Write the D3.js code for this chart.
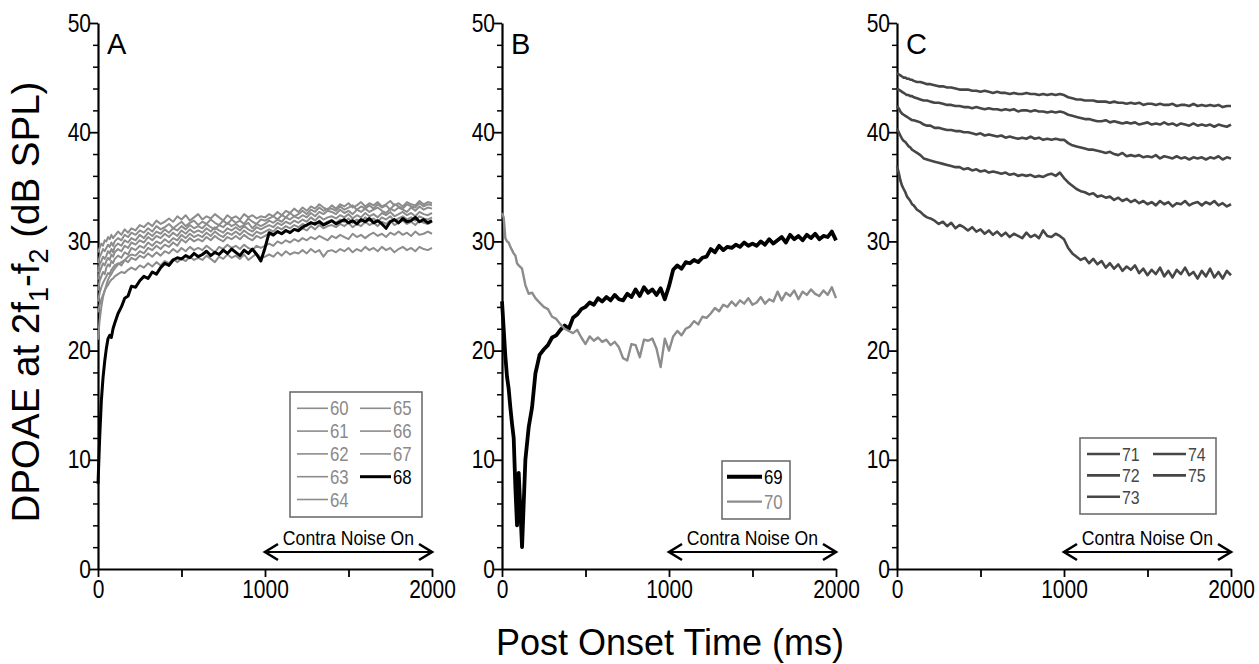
<!DOCTYPE html>
<html><head><meta charset="utf-8">
<script src="https://d3js.org/d3.v7.min.js"></script>
<style>body{margin:0;background:#fff}</style>
</head><body>
<svg id="fig" width="1259" height="664"></svg>
<script>
// sample times (ms), dense at the start where the curves move fast
var t = [0,10,20,30,40,50,60,70,80,90,100, 120,140,160,180,200,
  225,250,275,300,325,350,375,400, 425,450,475,500,525,550,575,600,
  625,650,675,700,725,750,775,800, 825,850,875,900,925,950,975,1000,
  1025,1050,1075,1100,1125,1150,1175,1200, 1225,1250,1275,1300,1325,1350,1375,1400,
  1425,1450,1475,1500,1525,1550,1575,1600, 1625,1650,1675,1700,1725,1750,1775,1800,
  1825,1850,1875,1900,1925,1950,1975,2000]

// panel A
var a60 = [29.0,29.4,29.8,29.6,30.1,30.0,30.4,30.2,30.6,30.3,30.5, 30.9,30.6,31.1,30.8,31.2,
  31.0,31.5,31.3,31.7,31.4,31.9,31.6,31.8, 32.1,31.8,32.3,32.0,32.4,31.9,32.2,32.5,
  32.0,32.3,32.1,32.5,32.2,31.9,32.4,32.1, 32.3,32.0,32.5,32.2,32.4,32.1,32.3,32.2,
  32.5,32.3,32.7,32.4,32.8,32.6,33.0,32.7, 33.1,32.8,33.2,33.0,33.4,33.1,32.9,33.3,
  33.0,33.4,33.2,33.5,33.1,33.3,33.6,33.2, 33.5,33.3,33.6,33.2,33.4,33.7,33.3,33.5,
  33.2,33.6,33.4,33.3,33.7,33.4,33.6,33.5]
var a61 = [28.0,28.6,28.9,29.3,29.1,29.4,29.7,29.5,29.9,29.6,30.0, 30.3,30.1,30.6,30.4,30.8,
  30.6,31.0,30.8,31.2,30.9,31.4,31.1,31.3, 31.6,31.2,31.5,31.8,31.4,31.7,31.9,31.5,
  31.8,31.6,32.0,31.7,31.5,31.9,31.6,32.0, 31.7,31.9,31.6,32.1,31.8,31.6,32.0,31.9,
  32.1,32.3,32.0,32.4,32.2,32.6,32.3,32.5, 32.8,32.5,32.9,32.7,33.1,32.8,33.0,33.0,
  32.8,33.2,32.9,33.1,33.3,32.9,33.2,33.0, 33.3,33.0,33.4,33.1,33.3,32.9,33.4,33.2,
  33.0,33.4,33.2,33.1,33.5,33.2,33.4,33.3]
var a62 = [27.2,27.9,28.2,28.6,28.4,28.7,29.1,28.9,29.3,29.0,29.5, 29.8,29.6,30.1,29.9,30.3,
  30.1,30.6,30.3,30.8,30.5,30.9,30.7,31.1, 30.8,31.2,31.0,31.4,31.1,31.5,31.2,31.4,
  31.2,31.6,31.3,31.1,31.5,31.3,31.7,31.4, 31.6,31.3,31.5,31.7,31.2,31.6,31.4,31.6,
  31.9,31.7,32.0,31.8,32.2,32.0,32.3,32.1, 32.4,32.2,32.6,32.3,32.7,32.5,32.8,32.7,
  32.5,32.9,32.6,32.8,32.5,32.9,32.7,33.0, 32.7,32.9,33.1,32.8,32.6,33.0,32.8,33.1,
  32.9,32.7,33.1,32.8,33.2,32.9,33.1,33.0]
var a63 = [26.5,27.2,27.6,28.0,27.8,28.2,28.5,28.3,28.8,28.6,29.0, 29.3,29.1,29.6,29.4,29.9,
  29.7,30.1,29.9,30.4,30.1,30.5,30.3,30.7, 30.4,30.8,30.5,31.0,30.7,31.1,30.8,31.0,
  30.8,31.2,30.9,31.3,31.0,30.8,31.2,31.0, 31.3,31.0,31.4,31.1,30.9,31.3,31.1,31.3,
  31.5,31.3,31.7,31.5,31.8,31.6,31.9,31.7, 32.0,31.8,32.2,31.9,32.3,32.0,32.2,32.3,
  32.1,32.4,32.2,32.5,32.1,32.4,32.2,32.6, 32.3,32.5,32.2,32.6,32.4,32.7,32.3,32.5,
  32.7,32.4,32.6,32.3,32.7,32.5,32.4,32.6]
var a64 = [25.5,26.4,26.8,27.2,27.0,27.6,27.9,27.7,28.2,28.0,28.4, 28.7,28.5,29.0,28.8,29.4,
  29.2,29.6,29.4,29.9,29.6,30.0,29.8,30.2, 29.9,30.3,30.1,30.6,30.3,30.7,30.4,30.6,
  30.4,30.8,30.5,30.9,30.6,30.4,30.8,30.6, 30.9,30.6,31.0,30.7,30.5,30.9,30.7,30.9,
  31.1,30.9,31.3,31.1,31.4,31.2,31.5,31.3, 31.6,31.4,31.8,31.5,31.9,31.6,31.8,31.9,
  31.7,32.0,31.8,32.1,31.7,32.0,31.8,32.2, 31.9,32.1,31.8,32.2,32.0,32.3,31.9,32.1,
  32.3,32.0,32.2,31.9,32.3,32.1,32.0,32.2]
var a65 = [21.0,22.8,24.0,24.9,25.5,26.0,26.5,26.8,27.0,27.3,27.5, 27.9,28.1,28.3,28.6,28.8,
  28.7,29.1,28.9,29.4,29.2,29.6,29.3,29.7, 29.5,29.9,29.6,30.2,29.9,30.3,30.0,30.2,
  30.0,30.4,30.1,30.5,30.2,30.0,30.4,30.2, 30.5,30.2,30.6,30.3,30.1,30.5,30.3,30.5,
  30.7,30.5,30.9,30.7,31.0,30.8,31.1,30.9, 31.2,31.0,31.4,31.1,31.5,31.2,31.4,31.5,
  31.3,31.6,31.4,31.7,31.3,31.6,31.4,31.8, 31.5,31.7,31.4,31.8,31.6,31.9,31.5,31.7,
  31.9,31.6,31.8,31.5,31.9,31.7,31.6,31.8]
var a66 = [24.5,25.3,25.8,26.2,26.5,26.8,27.1,27.0,27.4,27.6,27.8, 28.0,27.8,28.3,28.1,28.5,
  28.3,28.7,28.5,28.9,28.6,29.0,28.7,29.1, 28.9,29.3,29.0,29.4,29.1,29.5,29.2,29.4,
  29.2,29.6,29.3,29.0,29.5,29.3,29.7,29.4, 29.6,29.3,29.7,29.4,29.2,29.6,29.4,29.6,
  29.8,29.6,30.0,29.8,30.1,29.9,30.2,30.0, 30.3,30.1,30.4,30.2,30.5,30.3,30.1,30.5,
  30.3,30.6,30.4,30.2,30.7,30.4,30.6,30.3, 30.6,30.8,30.5,30.7,30.4,30.8,30.6,30.9,
  30.6,30.8,30.5,30.9,30.6,30.7,30.9,30.7]
var a67 = [23.5,24.2,24.7,25.1,25.5,25.8,26.0,26.3,26.5,26.6,26.8, 27.0,27.2,27.1,27.4,27.6,
  27.4,27.8,27.6,28.0,27.7,28.1,27.8,28.2, 28.0,28.4,28.1,28.4,28.2,28.6,28.3,28.5,
  28.3,28.7,28.4,28.1,28.6,28.4,28.8,28.5, 28.7,28.4,28.8,28.3,28.6,28.9,28.5,28.6,
  28.8,28.6,29.0,28.7,29.1,28.8,29.0,28.9, 29.2,28.9,29.3,29.0,29.2,28.6,29.1,29.2,
  29.0,29.3,29.1,29.4,29.0,29.3,29.1,29.5, 29.2,29.4,29.1,29.5,29.2,29.4,29.0,29.3,
  29.5,29.2,29.4,29.1,29.5,29.3,29.2,29.4]
var a68 = [7.8,12.0,15.4,17.5,19.0,20.2,21.1,21.4,21.2,22.0,22.5, 23.4,24.0,24.8,25.0,25.9,
  25.8,26.4,26.8,26.6,27.2,27.0,27.6,28.0, 27.8,28.3,28.5,28.4,28.7,28.5,28.9,28.6,
  28.8,29.1,28.7,29.0,28.8,29.2,28.9,29.3, 29.0,28.7,29.2,28.9,29.3,28.8,28.2,29.4,
  30.8,30.6,30.9,30.7,31.0,30.8,31.1,31.0, 31.3,31.5,31.7,31.6,31.8,31.5,31.7,31.9,
  31.6,31.8,32.0,31.7,31.9,31.6,32.0,31.8, 32.1,31.7,31.9,31.6,31.2,31.8,32.0,31.7,
  32.1,31.8,31.9,32.2,31.8,32.0,31.7,31.9]

// panel B
var b69 = [24.5,22.0,19.5,17.6,16.5,14.8,13.3,12.0,7.5,4.0,8.8, 2.0,10.0,13.0,14.8,17.9,
  19.6,20.1,20.5,21.2,21.4,21.9,22.3,22.0, 23.0,23.3,23.8,24.0,24.4,24.2,24.8,24.5,
  24.9,24.6,25.1,24.7,24.6,25.2,24.9,25.6, 25.0,25.8,25.3,25.6,25.1,25.7,24.7,25.9,
  27.4,27.8,27.5,28.1,28.0,28.3,28.1,28.5, 28.6,29.3,29.0,29.6,29.2,29.5,29.4,29.7,
  29.5,29.9,29.6,29.8,29.6,30.0,29.7,30.2, 29.8,30.1,30.4,29.9,30.6,30.2,30.5,30.1,
  30.6,30.3,30.7,30.2,30.5,30.4,30.9,30.1]
var b70 = [32.6,32.2,30.3,30.0,29.9,29.5,29.2,28.9,28.7,28.0,27.8, 27.5,26.0,25.2,25.3,24.8,
  24.4,24.0,23.8,23.1,22.9,22.4,22.0,21.8, 21.6,21.9,21.2,20.6,21.3,20.9,21.2,20.8,
  21.0,20.5,20.8,20.3,19.3,19.1,20.6,20.5, 19.4,21.0,20.9,21.1,20.2,18.5,21.1,20.0,
  21.3,21.8,21.4,22.0,22.2,22.7,22.4,23.1, 23.0,23.4,23.9,23.6,24.2,24.0,24.5,24.1,
  24.6,24.3,24.8,24.2,24.4,24.9,24.3,24.7, 24.5,25.4,24.6,25.3,25.0,25.5,24.7,25.4,
  25.1,25.6,25.2,25.0,25.5,25.1,25.8,24.8]

// panel C
var c71 = [45.4,45.3,45.2,45.1,45.0,45.0,44.9,44.9,44.8,44.8,44.7, 44.6,44.6,44.5,44.4,44.4,
  44.3,44.2,44.2,44.1,44.1,44.0,43.9,43.9, 43.9,43.8,43.8,43.7,43.8,43.7,43.6,43.7,
  43.6,43.6,43.5,43.6,43.5,43.5,43.6,43.5, 43.5,43.4,43.5,43.4,43.5,43.4,43.5,43.4,
  43.2,43.1,43.0,43.0,42.9,42.9,42.9,42.8, 42.8,42.8,42.7,42.8,42.7,42.7,42.6,42.7,
  42.6,42.7,42.5,42.6,42.6,42.5,42.6,42.5, 42.5,42.6,42.4,42.5,42.5,42.4,42.6,42.4,
  42.5,42.4,42.5,42.4,42.5,42.3,42.4,42.4]
var c72 = [44.0,43.9,43.8,43.7,43.6,43.5,43.4,43.4,43.3,43.3,43.2, 43.1,43.0,42.9,42.9,42.8,
  42.7,42.7,42.6,42.5,42.5,42.4,42.4,42.3, 42.3,42.2,42.3,42.2,42.1,42.2,42.1,42.1,
  42.0,42.1,42.0,42.1,41.9,42.0,42.0,41.9, 42.0,41.9,41.9,41.8,41.9,41.8,41.9,41.8,
  41.6,41.5,41.4,41.3,41.2,41.2,41.1,41.0, 41.0,41.1,40.9,41.0,40.9,40.8,40.9,40.8,
  40.9,40.7,40.8,40.9,40.7,40.8,40.7,40.9, 40.7,40.8,40.6,40.8,40.7,40.6,40.8,40.6,
  40.7,40.6,40.7,40.5,40.7,40.6,40.5,40.7]
var c73 = [42.4,42.2,41.9,41.7,41.6,41.5,41.4,41.3,41.2,41.1,41.1, 41.0,40.9,40.7,40.6,40.6,
  40.4,40.4,40.3,40.2,40.2,40.1,40.1,40.0, 40.0,39.9,39.8,39.9,39.7,39.8,39.7,39.6,
  39.7,39.5,39.6,39.5,39.4,39.5,39.4,39.6, 39.4,39.5,39.3,39.4,39.3,39.4,39.3,39.3,
  39.0,38.8,38.7,38.6,38.5,38.4,38.4,38.3, 38.2,38.1,38.2,38.0,37.9,38.1,37.8,37.9,
  37.8,37.9,37.7,37.8,37.7,37.9,37.6,37.8, 37.7,37.6,37.8,37.6,37.7,37.5,37.7,37.6,
  37.7,37.5,37.7,37.6,37.8,37.5,37.7,37.6]
var c74 = [40.3,40.0,39.7,39.4,39.2,39.1,38.9,38.7,38.6,38.4,38.3, 38.1,37.9,37.6,37.5,37.4,
  37.3,37.2,37.1,37.0,36.9,36.8,36.8,36.6, 36.7,36.5,36.6,36.4,36.5,36.3,36.4,36.3,
  36.2,36.3,36.1,36.2,36.0,36.1,36.0,36.1, 35.9,36.0,35.9,36.1,36.2,36.0,36.3,35.8,
  35.4,35.1,34.8,34.6,34.5,34.3,34.4,34.1, 34.2,34.0,34.1,33.8,34.0,33.7,33.9,33.6,
  33.8,33.5,33.7,33.4,33.6,33.3,33.7,33.4, 33.6,33.2,33.5,33.4,33.7,33.3,33.5,33.6,
  33.3,33.6,33.4,33.7,33.3,33.5,33.2,33.4]
var c75 = [36.9,36.3,35.6,35.1,34.8,34.5,34.1,33.9,33.7,33.4,33.3, 32.9,32.7,32.4,32.2,32.1,
  31.9,31.6,31.8,31.4,31.7,31.2,31.5,31.3, 31.0,31.3,30.9,31.1,30.7,31.0,30.6,30.9,
  30.5,30.8,30.4,30.7,30.5,30.3,30.8,30.4, 30.6,30.3,31.0,30.5,30.4,30.7,30.5,30.2,
  29.4,28.9,28.6,28.3,28.5,28.0,28.4,27.9, 28.2,27.6,28.0,27.5,27.9,27.3,27.7,27.4,
  27.8,27.1,27.5,26.9,27.4,27.0,27.6,26.8, 27.3,26.7,27.4,27.0,27.6,26.9,27.2,26.6,
  27.3,26.8,27.5,26.7,27.2,26.6,27.3,26.9]

var yTicks = [0, 10, 20, 30, 40, 50]
var xTicks = [0, 1000, 2000]
var xMinor = [500, 1500]
var noiseOn = [1000, 2000]

var FONT = '"Liberation Sans", Arial, sans-serif'
var NARROW = 0.84   // squeeze for the condensed type used in the figure
var GRAY = '#8c8c8c'
var DARK = '#464646'

var svg = d3.select('#fig')
svg.append('rect').attr('width', 1259).attr('height', 664).attr('fill', '#fff')

var plotTop = 23, plotBottom = 569, pw = 334

var x = d3.scaleLinear().domain([0, 2000]).range([0, pw])
var y = d3.scaleLinear().domain([0, 50]).range([plotBottom, plotTop])

var line = d3.line()
  .x(function(d, i) { return x(t[i]) })
  .y(function(d) { return y(d) })

function narrowText(sel, px, py, size) {
  return sel.append('text')
    .attr('transform', 'translate(' + px + ',' + py + ') scale(' + NARROW + ',1)')
    .attr('font-family', FONT).attr('font-size', size)
}

function drawPanel(left, letter, series, legend) {
  var g = svg.append('g').attr('transform', 'translate(' + left + ',0)')

  // minor ticks on y, every 2 dB
  var minor = d3.range(0, 51, 2).filter(function(v) { return v % 10 != 0 })
  g.append('g')
    .call(d3.axisLeft(y).tickValues(minor).tickSize(5).tickFormat(''))
    .call(function(a) { a.select('.domain').remove() })
    .selectAll('line').attr('stroke-width', 1.5)

  var ya = g.append('g')
    .call(d3.axisLeft(y).tickValues(yTicks).tickSize(8).tickSizeOuter(0).tickPadding(-1))
  var xa = g.append('g').attr('transform', 'translate(0,' + plotBottom + ')')
    .call(d3.axisBottom(x).tickValues(xTicks.concat(xMinor)).tickSize(8).tickSizeOuter(0).tickPadding(3)
      .tickFormat(function(d) { return xTicks.indexOf(d) >= 0 ? d : '' }))
  ;[ya, xa].forEach(function(a) {
    a.select('.domain').attr('stroke-width', 2.2)
    a.selectAll('.tick line').attr('stroke-width', 1.8)
    a.selectAll('text').attr('font-family', FONT).attr('font-size', 25).attr('fill', '#000')
      .attr('transform', 'scale(' + NARROW + ',1)')
  })
  ya.selectAll('text').attr('x', -7 / NARROW)

  g.append('text').attr('x', 9).attr('y', 54)
    .attr('font-family', FONT).attr('font-size', 29)
    .text(letter)

  series.forEach(function(s) {
    g.append('path').datum(s.values).attr('d', line)
      .attr('fill', 'none').attr('stroke', s.color).attr('stroke-width', s.width)
      .attr('stroke-linejoin', 'round')
  })

  // legend box
  var lg = g.append('g')
  lg.append('rect').attr('x', legend.x).attr('y', legend.y)
    .attr('width', legend.w).attr('height', legend.h)
    .attr('fill', '#fff').attr('stroke', '#6e6e6e').attr('stroke-width', 1.6)
  legend.items.forEach(function(it, i) {
    var col = Math.floor(i / legend.rows), row = i % legend.rows
    var lx = legend.x + legend.pad + col * legend.colW
    var ly = legend.y + legend.first + row * legend.rowH
    lg.append('line').attr('x1', lx).attr('x2', lx + legend.lineW)
      .attr('y1', ly).attr('y2', ly)
      .attr('stroke', it.color).attr('stroke-width', it.width)
    narrowText(lg, lx + legend.lineW + 2, ly + 7, legend.font).attr('fill', it.text).text(it.name)
  })

  // contra noise arrow
  var ay = plotBottom - 17
  var x1 = x(noiseOn[0]), x2 = x(noiseOn[1])
  g.append('line').attr('x1', x1 + 2).attr('x2', x2 - 2).attr('y1', ay).attr('y2', ay)
    .attr('stroke', '#000').attr('stroke-width', 2)
  g.append('path')
    .attr('d', 'M' + (x1 + 13) + ',' + (ay - 8) + 'L' + x1 + ',' + ay + 'L' + (x1 + 13) + ',' + (ay + 8) +
      'M' + (x2 - 13) + ',' + (ay - 8) + 'L' + x2 + ',' + ay + 'L' + (x2 - 13) + ',' + (ay + 8))
    .attr('fill', 'none').attr('stroke', '#000').attr('stroke-width', 2.6)
  narrowText(g, x((noiseOn[0] + noiseOn[1]) / 2), ay - 7, 21)
    .attr('text-anchor', 'middle').text('Contra Noise On')
}

var grayA = [a60, a61, a62, a63, a64, a65, a66, a67]
var seriesA = grayA.map(function(v) { return { values: v, color: GRAY, width: 2 } })
seriesA.push({ values: a68, color: '#000', width: 3 })
var legA = { x: 192, y: 392, w: 132, h: 125, pad: 7, first: 16.3, rowH: 22.8, colW: 63, lineW: 31, rows: 5, font: 20,
  items: ['60','61','62','63','64','65','66','67'].map(function(n) { return { name: n, color: GRAY, width: 1.6, text: '#8a8a8a' } })
    .concat([{ name: '68', color: '#000', width: 3, text: '#000' }]) }
drawPanel(98, 'A', seriesA, legA)

var seriesB = [{ values: b69, color: '#000', width: 3.8 }, { values: b70, color: GRAY, width: 2.4 }]
var legB = { x: 220, y: 461, w: 68, h: 58, pad: 5, first: 15.7, rowH: 25, colW: 0, lineW: 35, rows: 2, font: 20,
  items: [{ name: '69', color: '#000', width: 4, text: '#000' }, { name: '70', color: GRAY, width: 2.2, text: '#8a8a8a' }] }
drawPanel(502, 'B', seriesB, legB)

var seriesC = [c71, c72, c73, c74, c75].map(function(v) { return { values: v, color: DARK, width: 2.6 } })
var legC = { x: 183, y: 438, w: 136, h: 76, pad: 7, first: 16, rowH: 21.4, colW: 66, lineW: 33, rows: 3, font: 19,
  items: ['71','72','73','74','75'].map(function(n) { return { name: n, color: DARK, width: 2.6, text: DARK } }) }
drawPanel(897, 'C', seriesC, legC)

// axis titles
var yt = svg.append('text').attr('transform', 'translate(39,302) rotate(-90)')
  .attr('text-anchor', 'middle').attr('font-family', FONT)
  .attr('font-size', 38.5)
yt.append('tspan').text('DPOAE at 2f')
yt.append('tspan').attr('font-size', 27).attr('dy', 9).text('1')
yt.append('tspan').attr('dy', -9).text('-f')
yt.append('tspan').attr('font-size', 27).attr('dy', 9).text('2')
yt.append('tspan').attr('dy', -9).text(' (dB SPL)')

svg.append('text').attr('x', 670).attr('y', 655).attr('text-anchor', 'middle')
  .attr('font-family', FONT).attr('font-size', 36)
  .text('Post Onset Time (ms)')
</script>
</body></html>
